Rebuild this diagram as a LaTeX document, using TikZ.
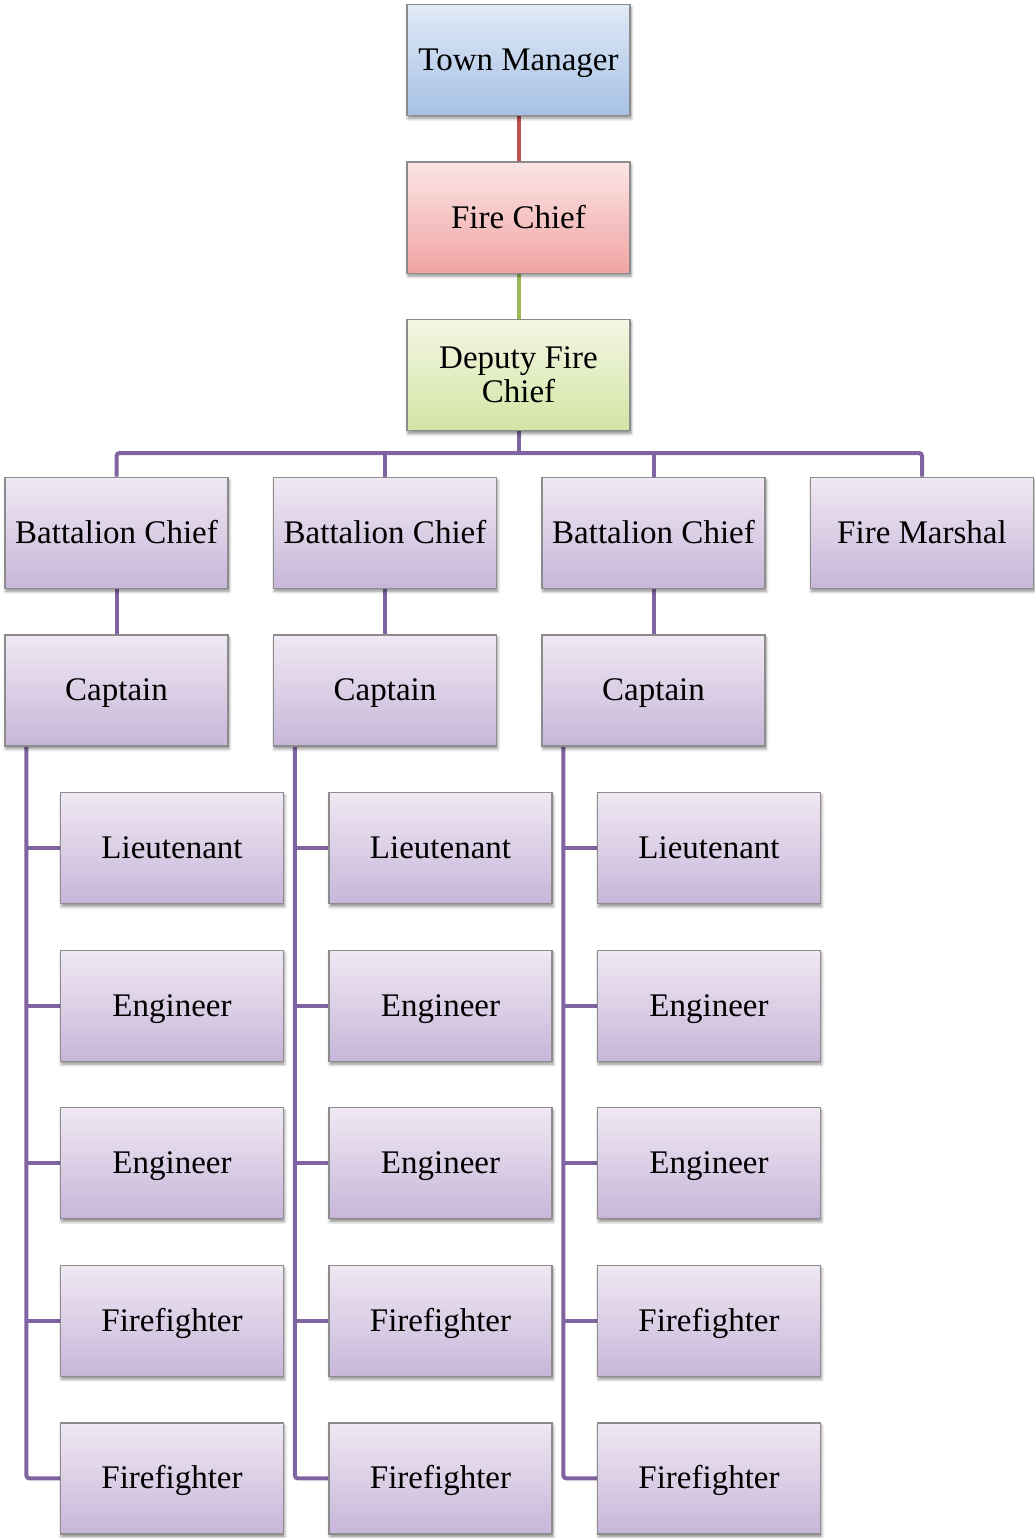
\documentclass[tikz,border=0pt]{standalone}
\usepackage{fontspec}
\setmainfont{Liberation Serif}
\usetikzlibrary{shadows.blur,backgrounds}
\definecolor{lred}{HTML}{C0504D}
\definecolor{lgreen}{HTML}{9BBB59}
\definecolor{lpurple}{HTML}{8064A2}
\tikzset{
  box/.style={draw=black!45, line width=1.2pt, minimum width=223pt, minimum height=111pt,
    inner sep=0pt, align=center, font=\fontsize{33}{34}\selectfont,
    blur shadow={shadow xshift=1pt, shadow yshift=-3pt, shadow blur radius=3pt, shadow opacity=45}},
  onebox/.style={text height=26pt, text depth=5pt},
  bluebox/.style={box, onebox, top color={rgb,255:red,225;green,234;blue,247}, bottom color={rgb,255:red,166;green,192;blue,229}},
  redbox/.style={box, onebox, top color={rgb,255:red,252;green,229;blue,229}, bottom color={rgb,255:red,240;green,163;blue,163}},
  greenbox/.style={box, top color={rgb,255:red,243;green,247;blue,228}, bottom color={rgb,255:red,211;green,228;blue,164}},
  purplebox/.style={box, onebox, top color={rgb,255:red,240;green,232;blue,243}, bottom color={rgb,255:red,199;green,182;blue,217}},
  conn/.style={line width=4pt, lpurple},
}
\begin{document}
\begin{tikzpicture}[x=1pt,y=1pt]
\useasboundingbox (0,0) rectangle (1035,-1538);
% top chain
\node[bluebox] (tm) at (518.5,-60) {Town Manager};
\node[redbox] (fc) at (518.5,-217.6) {Fire Chief};
\node[greenbox] (dfc) at (518.5,-375.2) {Deputy Fire\\Chief};
% level 3
\node[purplebox] (bc1) at (116.5,-532.8) {Battalion Chief};
\node[purplebox] (bc2) at (385,-532.8) {Battalion Chief};
\node[purplebox] (bc3) at (653.5,-532.8) {Battalion Chief};
\node[purplebox] (fm) at (922,-532.8) {Fire Marshal};
% captains
\node[purplebox] (cap1) at (116.5,-690.4) {Captain};
\node[purplebox] (cap2) at (385,-690.4) {Captain};
\node[purplebox] (cap3) at (653.5,-690.4) {Captain};
% subordinates
\foreach \c/\x in {1/172,2/440.5,3/709}{
  \node[purplebox] (lt\c) at (\x,-848) {Lieutenant};
  \node[purplebox] (ea\c) at (\x,-1005.6) {Engineer};
  \node[purplebox] (eb\c) at (\x,-1163.2) {Engineer};
  \node[purplebox] (fa\c) at (\x,-1320.8) {Firefighter};
  \node[purplebox] (fb\c) at (\x,-1478.4) {Firefighter};
}
\coordinate (bus) at (0,-453);
\begin{scope}[on background layer]
\draw[line width=4pt, lred] (tm.south) -- (fc.north);
\draw[line width=4pt, lgreen] (fc.south) -- (dfc.north);
\draw[conn] (dfc.south) -- (dfc.south |- bus);
\draw[conn, rounded corners=3pt] (bc1.north) -- (bc1.north |- bus) -| (fm.north);
\draw[conn] (bc2.north) -- (bc2.north |- bus);
\draw[conn] (bc3.north) -- (bc3.north |- bus);
\foreach \c in {1,2,3}{
  \draw[conn] (bc\c.south) -- (cap\c.north);
  \draw[conn, rounded corners=3pt] ([xshift=22pt]cap\c.south west) |- (fb\c.west);
  \foreach \n in {lt,ea,eb,fa}{
    \draw[conn] ([xshift=22pt]cap\c.south west |- \n\c.west) -- (\n\c.west);
  }
}
\end{scope}
\end{tikzpicture}
\end{document}
